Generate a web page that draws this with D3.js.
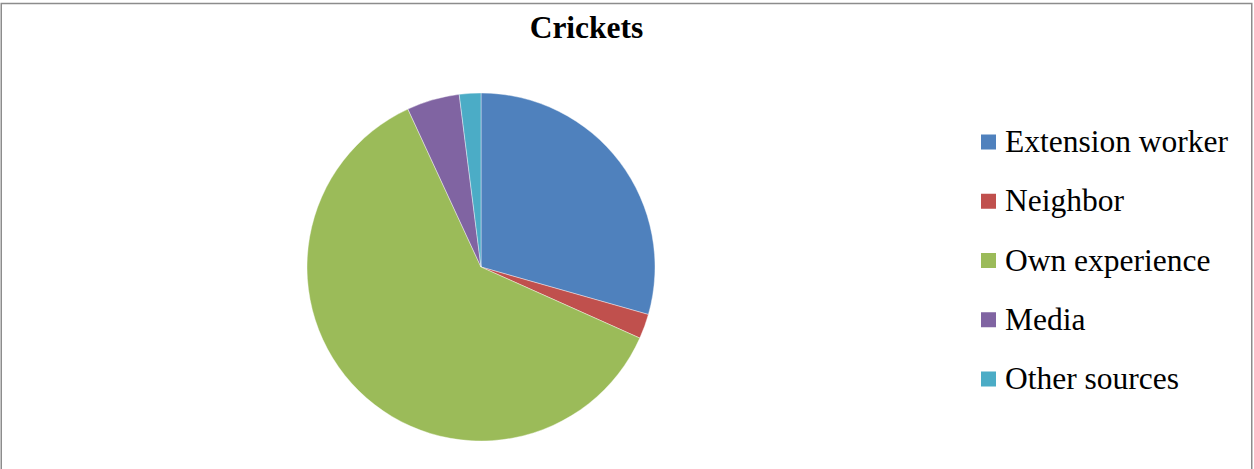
<!DOCTYPE html>
<html><head><meta charset="utf-8">
<script src="https://cdn.jsdelivr.net/npm/d3@7"></script>
<style>html,body{margin:0;padding:0;background:#fff;}</style>
</head><body>
<svg id="chart" width="1254" height="469"></svg>
<script>
const title = "Crickets";
const categories = ["Extension worker", "Neighbor", "Own experience", "Media", "Other sources"];
const values = [29.4, 2.3, 61.4, 4.9, 2.0];
const colors = ["#4F81BD", "#C0504D", "#9BBB59", "#8064A2", "#4BACC6"];

const svg = d3.select("#chart");
svg.append("rect").attr("x", 1.25).attr("y", 3.5).attr("width", 1250.5).attr("height", 470)
  .attr("fill", "#fff").attr("stroke", "#8c8c8c").attr("stroke-width", 1.5);

svg.append("text").attr("x", 586.5).attr("y", 38).attr("text-anchor", "middle")
  .attr("font-family", "Liberation Serif, Times New Roman, serif").attr("font-weight", "bold")
  .attr("font-size", 31.5).text(title);

const cx = 481, cy = 267, r = 174;
const color = d3.scaleOrdinal().domain(categories).range(colors);
const pie = d3.pie().sort(null).value(d => d.v);
const data = categories.map((c, i) => ({c, v: values[i]}));
const arc = d3.arc().innerRadius(0).outerRadius(r);
const g = svg.append("g").attr("transform", `translate(${cx},${cy})`);
g.selectAll("path").data(pie(data)).join("path")
  .attr("d", arc).attr("fill", d => color(d.data.c))
  .attr("stroke", "#fff").attr("stroke-width", 0.4);

const legendY = d3.scalePoint().domain(categories).range([142, 379]);
const lg = svg.append("g");
categories.forEach(c => {
  const y = legendY(c);
  lg.append("rect").attr("x", 981).attr("y", y - 7.5).attr("width", 15).attr("height", 15).attr("fill", color(c));
  lg.append("text").attr("x", 1005).attr("y", y + 10)
    .attr("font-family", "Liberation Serif, Times New Roman, serif").attr("font-size", 31.5)
    .attr("fill", "#000").text(c);
});
</script>
</body></html>
